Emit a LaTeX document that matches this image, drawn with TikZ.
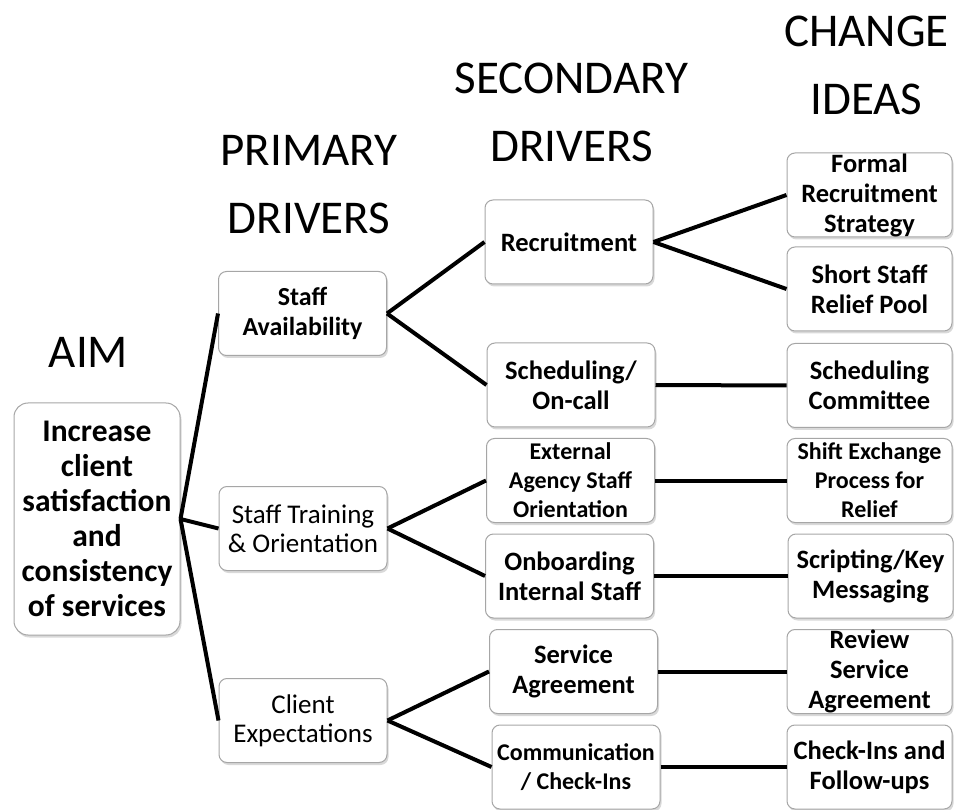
\documentclass[tikz,border=0pt]{standalone}
\usepackage{fontspec}
\setmainfont{Carlito}
\usetikzlibrary{shadows}

\tikzset{
  box/.style={draw=gray!70,line width=1pt,fill=white,rounded corners=8pt,
    minimum width=168pt,minimum height=84pt,inner sep=0pt,align=center,
    drop shadow={shadow xshift=1.5pt,shadow yshift=-2.5pt,opacity=.3,fill=gray},
    font=\fontsize{26.5}{30}\selectfont\bfseries},
  smallbox/.style={box,font=\fontsize{24}{29}\selectfont\bfseries},
  primbox/.style={box,font=\fontsize{27}{29}\selectfont},
  ideabox/.style={box,minimum width=165pt},
  aimbox/.style={box,rounded corners=14pt,minimum width=166pt,minimum height=232pt,
    font=\fontsize{31.5}{35}\selectfont\bfseries},
  heading/.style={inner sep=0pt,align=center,font=\fontsize{47}{68}\selectfont},
  link/.style={line width=4pt}
}

\begin{document}
\begin{tikzpicture}[x=1pt,y=-1pt]
    \useasboundingbox (0,0) rectangle (954,810);
    % Column headings
    \node[heading] (hAim) at (88.5,352) {AIM};
    \node[heading] (hPrim) at (309,185) {PRIMARY\\DRIVERS};
    \node[heading] (hSec) at (571.5,112.5) {SECONDARY\\DRIVERS};
    \node[heading] (hIdea) at (866.5,65) {CHANGE\\IDEAS};
    % Aim
    \node[aimbox] (aim) at (97,519) {Increase\\client\\satisfaction\\and\\consistency\\of services};
    % Primary drivers
    \node[primbox,font=\fontsize{26}{30}\selectfont\bfseries] (staffavail) at (302.5,313.5) {Staff\\Availability};
    \node[primbox] (stafftrain) at (303,528.5) {Staff Training\\\& Orientation};
    \node[primbox] (clientexp) at (303,720.5) {Client\\Expectations};
    % Secondary drivers
    \node[box] (recruit) at (569,242) {Recruitment};
    \node[box] (sched) at (571,385) {Scheduling/\\On-call};
    \node[smallbox] (external) at (570.5,480.5) {External\\Agency Staff\\Orientation};
    \node[box] (onboard) at (569.5,576) {Onboarding\\Internal Staff};
    \node[box] (service) at (573.5,671.5) {Service\\Agreement};
    \node[smallbox] (comm) at (576,767) {Communication\\/ Check-Ins};
    % Change ideas
    \node[ideabox] (formal) at (869.5,195) {Formal\\Recruitment\\Strategy};
    \node[ideabox] (shortstaff) at (869.5,289) {Short Staff\\Relief Pool};
    \node[ideabox] (schedcomm) at (869.5,385.5) {Scheduling\\Committee};
    \node[smallbox,minimum width=165pt] (shiftex) at (869.5,480.5) {Shift Exchange\\Process for\\Relief};
    \node[ideabox] (scripting) at (870.5,576) {Scripting/Key\\Messaging};
    \node[ideabox] (review) at (869.5,671.5) {Review\\Service\\Agreement};
    \node[ideabox] (checkins) at (869.5,767) {Check-Ins and\\Follow-ups};
    % Links
    \draw[link] (aim.east) -- (staffavail.west);
    \draw[link] (aim.east) -- (stafftrain.west);
    \draw[link] (aim.east) -- (clientexp.west);
    \draw[link] (staffavail.east) -- (recruit.west);
    \draw[link] (staffavail.east) -- (sched.west);
    \draw[link] (stafftrain.east) -- (external.west);
    \draw[link] (stafftrain.east) -- (onboard.west);
    \draw[link] (clientexp.east) -- (service.west);
    \draw[link] (clientexp.east) -- (comm.west);
    \draw[link] (recruit.east) -- (formal.west);
    \draw[link] (recruit.east) -- (shortstaff.west);
    \draw[link] (sched.east) -- (schedcomm.west);
    \draw[link] (external.east) -- (shiftex.west);
    \draw[link] (onboard.east) -- (scripting.west);
    \draw[link] (service.east) -- (review.west);
    \draw[link] (comm.east) -- (checkins.west);
\end{tikzpicture}
\end{document}
